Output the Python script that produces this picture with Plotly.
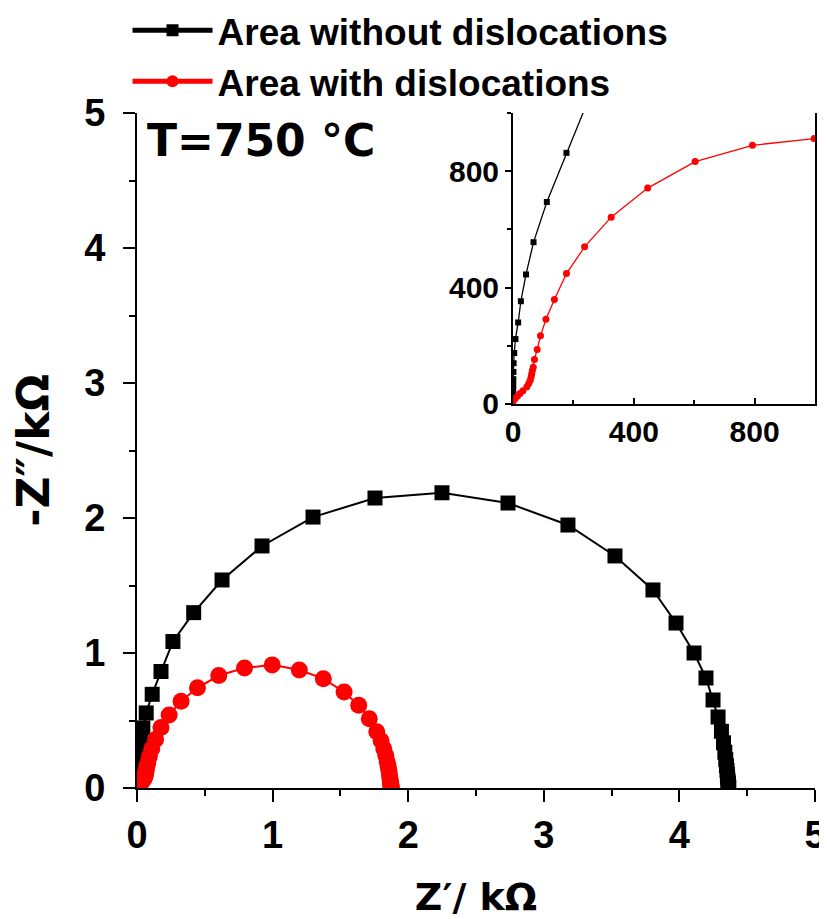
import plotly.graph_objects as go

# Impedance data in kOhm (Z', -Z'')
no_disl_zre = [0.0004, 0.0005, 0.0006, 0.0008, 0.001, 0.0015, 0.002, 0.004, 0.008, 0.017, 0.026, 0.043,
               0.068, 0.112, 0.177, 0.265, 0.418, 0.627, 0.922, 1.298, 1.755, 2.249, 2.736, 3.178,
               3.525, 3.805, 3.975, 4.108, 4.196, 4.248, 4.285, 4.31, 4.325, 4.335, 4.342, 4.347,
               4.351, 4.354, 4.356, 4.358, 4.36, 4.361, 4.362, 4.363, 4.364]
no_disl_zim = [0.02, 0.035, 0.05, 0.065, 0.085, 0.11, 0.14, 0.175, 0.223, 0.28, 0.353, 0.445,
               0.556, 0.694, 0.863, 1.085, 1.299, 1.541, 1.793, 2.007, 2.148, 2.187, 2.111, 1.948,
               1.719, 1.467, 1.222, 1.0, 0.815, 0.652, 0.526, 0.42, 0.335, 0.265, 0.21, 0.165,
               0.13, 0.1, 0.075, 0.055, 0.04, 0.028, 0.018, 0.01, 0.005]

disl_zre = [0.0, 0.007, 0.015, 0.023, 0.033, 0.046, 0.052, 0.057, 0.060, 0.062, 0.064, 0.067,
            0.071, 0.080, 0.091, 0.109, 0.137, 0.177, 0.237, 0.325, 0.446, 0.603, 0.793, 0.997,
            1.197, 1.374, 1.527, 1.635, 1.713, 1.768, 1.80, 1.82, 1.835, 1.845, 1.852, 1.858,
            1.862, 1.865, 1.868, 1.87, 1.872, 1.873, 1.874, 1.875]
disl_zim = [0.008, 0.019, 0.027, 0.036, 0.045, 0.059, 0.07, 0.081, 0.093, 0.104, 0.115, 0.126,
            0.153, 0.187, 0.234, 0.291, 0.359, 0.448, 0.540, 0.642, 0.742, 0.833, 0.889, 0.912,
            0.874, 0.810, 0.711, 0.613, 0.513, 0.417, 0.35, 0.29, 0.24, 0.195, 0.16, 0.13,
            0.10, 0.075, 0.055, 0.04, 0.028, 0.018, 0.01, 0.004]

main_ticks = [0, 1, 2, 3, 4, 5]
inset_ticks = [0, 400, 800]

fig = go.Figure()

# Main plot
fig.add_trace(go.Scatter(x=no_disl_zre, y=no_disl_zim, mode="lines+markers",
                         name="Area without dislocations",
                         line=dict(color="black", width=2),
                         marker=dict(symbol="square", size=15, color="black"),
                         xaxis="x", yaxis="y"))
fig.add_trace(go.Scatter(x=disl_zre, y=disl_zim, mode="lines+markers",
                         name="Area with dislocations",
                         line=dict(color="#ff0000", width=2),
                         marker=dict(symbol="circle", size=17, color="#ff0000"),
                         xaxis="x", yaxis="y"))

# Inset (Ohm)
fig.add_trace(go.Scatter(x=[v * 1000 for v in no_disl_zre], y=[v * 1000 for v in no_disl_zim],
                         mode="lines+markers", showlegend=False,
                         line=dict(color="black", width=1.3),
                         marker=dict(symbol="square", size=6, color="black"),
                         xaxis="x2", yaxis="y2"))
fig.add_trace(go.Scatter(x=[v * 1000 for v in disl_zre], y=[v * 1000 for v in disl_zim],
                         mode="lines+markers", showlegend=False,
                         line=dict(color="#ff0000", width=1.3),
                         marker=dict(symbol="circle", size=7, color="#ff0000"),
                         xaxis="x2", yaxis="y2"))

tickfont_main = dict(family="Liberation Sans, Arial", size=38, color="black", weight="bold")
tickfont_inset = dict(family="Liberation Sans, Arial", size=30, color="black", weight="bold")
xtitle_font = dict(family="DejaVu Sans", size=38, color="black", weight="bold")
ytitle_font = dict(family="DejaVu Sans", size=44, color="black", weight="bold")

fig.update_layout(
    width=819, height=911,
    margin=dict(l=129, r=12, t=105, b=131, autoexpand=False),
    paper_bgcolor="white", plot_bgcolor="white",
    showlegend=True,
    legend=dict(x=-0.014, y=1.168, xanchor="left", yanchor="top",
                font=dict(family="Liberation Sans, Arial", size=37, color="black", weight="bold"),
                itemwidth=80, itemsizing="constant", bgcolor="rgba(0,0,0,0)",
                tracegroupgap=0, borderwidth=0),
    xaxis=dict(domain=[0, 1], range=[0, 5], tickvals=main_ticks, ticktext=[str(t) for t in main_ticks],
               showline=True, linecolor="black", linewidth=2, mirror=False, automargin=False,
               ticks="outside", ticklen=12, tickwidth=2, tickcolor="black",
               minor=dict(dtick=0.5, ticks="outside", ticklen=6, tickwidth=2, tickcolor="black", showgrid=False),
               showgrid=False, zeroline=False, tickfont=tickfont_main, ticklabelstandoff=0,
               title=dict(text="Z′/ kΩ", font=xtitle_font, standoff=30)),
    yaxis=dict(domain=[0, 1], range=[0, 5], tickvals=main_ticks, ticktext=[str(t) for t in main_ticks],
               showline=True, linecolor="black", linewidth=2, mirror=False, automargin=False,
               ticks="outside", ticklen=12, tickwidth=2, tickcolor="black",
               minor=dict(dtick=0.5, ticks="outside", ticklen=6, tickwidth=2, tickcolor="black", showgrid=False),
               showgrid=False, zeroline=False, tickfont=tickfont_main, ticklabelstandoff=10,
               title=dict(text="-Z″/kΩ", font=ytitle_font, standoff=24)),
    xaxis2=dict(domain=[0.5546, 1.0], range=[0, 1000], anchor="y2", tickvals=inset_ticks,
                showline=True, linecolor="black", linewidth=2, mirror=False, automargin=False,
                ticks="inside", ticklen=6, tickwidth=1.5, tickcolor="black",
                minor=dict(dtick=200, ticks="inside", ticklen=4, tickwidth=1.5, tickcolor="black", showgrid=False),
                showgrid=False, zeroline=False, tickfont=tickfont_inset),
    yaxis2=dict(domain=[0.569, 1.0], range=[0, 1000], anchor="x2", tickvals=inset_ticks,
                showline=True, linecolor="black", linewidth=2, mirror=True, automargin=False,
                ticks="outside", ticklen=6, tickwidth=1.5, tickcolor="black",
                minor=dict(dtick=200, ticks="outside", ticklen=4, tickwidth=1.5, tickcolor="black", showgrid=False),
                showgrid=False, zeroline=False, tickfont=tickfont_inset),
    annotations=[dict(text="T=750 °C", xref="paper", yref="paper", x=0.012, y=0.96,
                      xanchor="left", yanchor="middle", showarrow=False,
                      font=dict(family="DejaVu Sans", size=44, color="black", weight="bold"))],
)

fig.write_html("out.html")
